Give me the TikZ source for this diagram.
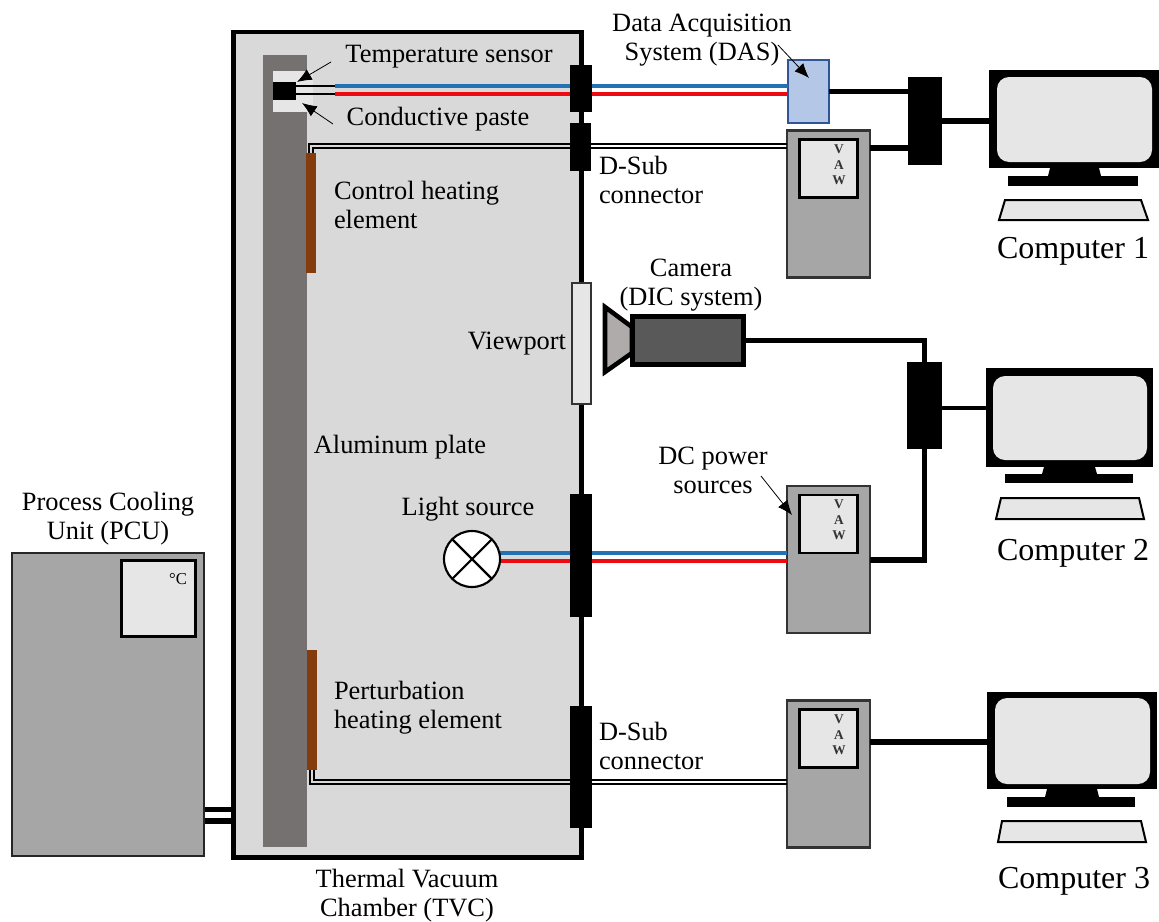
\documentclass[tikz,border=0pt]{standalone}
\usepackage{fontspec}
\setmainfont{Liberation Serif}
\usepackage{tikz}
\usetikzlibrary{arrows.meta}

\definecolor{tvcgray}{HTML}{D9D9D9}
\definecolor{plategray}{HTML}{767171}
\definecolor{pastegray}{HTML}{E7E6E6}
\definecolor{heaterbrown}{HTML}{843C0C}
\definecolor{unitgray}{HTML}{A6A6A6}
\definecolor{dasblue}{HTML}{B4C7E7}
\definecolor{dasline}{HTML}{2F5597}
\definecolor{wireblue}{HTML}{2272B4}
\definecolor{wirered}{HTML}{EE0A12}
\definecolor{camgray}{HTML}{595959}
\definecolor{conegray}{HTML}{AFABAB}

\begin{document}
\begin{tikzpicture}[
        x=0.75pt, y=-0.75pt,
        boxsize/.style 2 args={minimum width=#1*0.75pt, minimum height=#2*0.75pt},
        every node/.style={inner sep=0pt, outer sep=0pt},
        txt/.style={font=\fontsize{19.8pt}{21.75pt}\selectfont, align=center},
        txtleft/.style={font=\fontsize{19.8pt}{21.75pt}\selectfont, align=left, anchor=west},
        pctxt/.style={font=\fontsize{24pt}{28pt}\selectfont},
        vaw/.style={font=\fontsize{10pt}{11.5pt}\selectfont\bfseries, align=center, text=black!80},
        block/.style={fill=black},
        unit/.style={draw=black!80, line width=1.6pt, fill=unitgray},
        display/.style={draw=black, line width=1.6pt, fill=pastegray},
        monitor/.style={fill=black},
        screen/.style={fill=pastegray, rounded corners=9pt},
        keyboard/.style={draw=black, line width=1.5pt, fill=pastegray},
        heater/.style={fill=heaterbrown},
        cable/.style={line width=3.8pt},
        wireb/.style={wireblue, line width=2.6pt},
        wirer/.style={wirered, line width=2.6pt},
        thin wire/.style={line width=1pt},
        pointer/.style={line width=0.6pt, -{Latex[length=11pt, width=9pt]}}
    ]
        \useasboundingbox (0,0) rectangle (1159,921);

        % chamber and plate
        \node[draw=black, line width=3.4pt, fill=tvcgray, boxsize={348}{825.5}] (tvc) at (407.5,444.75) {};
        \node[fill=plategray, boxsize={44}{792}] (plate) at (285,451) {};
        \node[fill=pastegray, boxsize={40}{41}] (paste) at (293,91.5) {};
        \node[block, boxsize={23}{18}] (sensor) at (284.5,91) {};
        \node[heater, boxsize={10}{120}] (ctrl) at (311,213) {};
        \node[heater, boxsize={10}{120}] (pert) at (311.5,710) {};

        % units outside the chamber
        \node[draw=black!80, line width=1pt, fill=pastegray, boxsize={19}{121}] (viewport) at (581.5,343.5) {};
        \node[draw=dasline, line width=1.5pt, fill=dasblue, boxsize={41}{63}] (das) at (808.5,91.5) {};
        \node[unit, boxsize={83}{147}] (psuOne) at (828.5,204) {};
        \node[display, boxsize={58}{58}] (dispOne) at (828.5,168.5) {};
        \node[unit, boxsize={83}{147}] (psuTwo) at (828.5,559.5) {};
        \node[display, boxsize={58}{58}] (dispTwo) at (828.5,524) {};
        \node[unit, boxsize={83}{147}] (psuThree) at (828.5,774) {};
        \node[display, boxsize={58}{58}] (dispThree) at (828.5,738.5) {};
        \node[draw=black!85, line width=1.5pt, fill=unitgray, boxsize={192}{303}] (pcu) at (108,704) {};
        \node[display, boxsize={74}{76}] (dispPcu) at (158.5,598.5) {};
        \node[font=\fontsize{12.5pt}{14pt}\selectfont] (degC) at (178,579) {°C};
        \node[vaw] (vawOne) at (839,165) {V\\A\\W};
        \node[vaw] (vawTwo) at (839,520) {V\\A\\W};
        \node[vaw] (vawThree) at (839,735) {V\\A\\W};

        % sensor and lamp wires
        \coordinate (tsBlue) at (335,86);
        \coordinate (tsRed) at (335,94);
        \draw[thin wire] (sensor.east |- tsBlue) -- (tsBlue);
        \draw[thin wire] (sensor.east |- tsRed) -- (tsRed);
        \draw[wireb] (tsBlue) -- (tsBlue -| das.west);
        \draw[wirer] (tsRed) -- (tsRed -| das.west);
        \coordinate (lampBlue) at (490,553);
        \coordinate (lampRed) at (490,561);
        \draw[wireb] (lampBlue) -- (lampBlue -| psuTwo.west);
        \draw[wirer] (lampRed) -- (lampRed -| psuTwo.west);

        % heater wires
        \coordinate (ctrlOuter) at (309,153);
        \coordinate (ctrlOuterB) at (309,144);
        \coordinate (ctrlInner) at (313,153);
        \coordinate (ctrlInnerB) at (313,148);
        \draw[thin wire] (ctrlOuter) -- (ctrlOuterB) -- (ctrlOuterB -| psuOne.west);
        \draw[thin wire] (ctrlInner) -- (ctrlInnerB) -- (ctrlInnerB -| psuOne.west);
        \coordinate (pertOuter) at (310,770);
        \coordinate (pertOuterB) at (310,784);
        \coordinate (pertInner) at (314,770);
        \coordinate (pertInnerB) at (314,780);
        \draw[thin wire] (pertOuter) -- (pertOuterB) -- (pertOuterB -| psuThree.west);
        \draw[thin wire] (pertInner) -- (pertInnerB) -- (pertInnerB -| psuThree.west);

        % feedthroughs
        \node[block, boxsize={22}{47}] (subTop) at (581,88.5) {};
        \node[block, boxsize={21}{48}] (subCtrl) at (580.5,147) {};
        \node[block, boxsize={22}{123}] (subLamp) at (581,555.5) {};
        \node[block, boxsize={22}{122}] (subPert) at (581,767) {};

        % lamp
        \node[circle, draw=black, line width=1.6pt, fill=white, minimum size=56*0.75pt] (lamp) at (472,559) {};
        \draw[line width=1.6pt] (lamp.45) -- (lamp.225);
        \draw[line width=1.6pt] (lamp.135) -- (lamp.315);

        % camera
        \coordinate (coneA) at (605,307);
        \coordinate (coneB) at (632,327);
        \coordinate (coneC) at (632,353);
        \coordinate (coneD) at (605,372);
        \draw[line width=3.4pt, fill=conegray] (coneA) -- (coneB) -- (coneC) -- (coneD) -- cycle;
        \node[draw=black, line width=3.6pt, fill=camgray, boxsize={111}{48}] (cam) at (688,340.5) {};

        % pcu pipes
        \coordinate (pipeA) at (205,809.5);
        \coordinate (pipeB) at (205,821);
        \draw[cable] (pipeA) -- (pipeA -| tvc.west);
        \draw[cable] (pipeB) -- (pipeB -| tvc.west);

        % computer 1
        \node[monitor, boxsize={170}{98}] (monOne) at (1074,119) {};
        \node[screen, boxsize={155}{85}] (scrOne) at (1074.5,119.5) {};
        \fill (1050,168) -- (1099,168) -- (1101,176) -- (1048,176) -- cycle;
        \node[block, boxsize={130}{10}] (baseOne) at (1073,181) {};
        \draw[keyboard] (1005,200) -- (1141,200) -- (1148,220) -- (999,220) -- cycle;
        \node[pctxt] (pcOne) at (1073,251) {Computer 1};

        % computer 2
        \node[monitor, boxsize={167}{99}] (monTwo) at (1069.5,417.5) {};
        \node[screen, boxsize={154}{84}] (scrTwo) at (1070,418) {};
        \fill (1044,467) -- (1095,467) -- (1097,474) -- (1042,474) -- cycle;
        \node[block, boxsize={128}{9}] (baseTwo) at (1069,478.5) {};
        \draw[keyboard] (1001,498) -- (1139,498) -- (1144,519) -- (996,519) -- cycle;
        \node[pctxt] (pcTwo) at (1073,553) {Computer 2};

        % computer 3
        \node[monitor, boxsize={170}{97}] (monThree) at (1072,740.5) {};
        \node[screen, boxsize={155}{86}] (scrThree) at (1072.5,741) {};
        \fill (1047,789) -- (1097,789) -- (1099,797) -- (1045,797) -- cycle;
        \node[block, boxsize={128}{10}] (baseThree) at (1071,802) {};
        \draw[keyboard] (1002,821) -- (1141,821) -- (1146,842) -- (998,842) -- cycle;
        \node[pctxt] (pcThree) at (1074,881) {Computer 3};

        % hubs and cables
        \node[block, boxsize={34}{88}] (hubOne) at (925,121) {};
        \node[block, boxsize={35}{87}] (hubTwo) at (924.5,405.5) {};
        \coordinate (psuOneOut) at (870,148);
        \coordinate (psuTwoOut) at (870,560);
        \coordinate (psuThreeOut) at (870,742);
        \coordinate (hubTwoOut) at (942,408);
        \draw[cable] (das.east) -- (das.east -| hubOne.west);
        \draw[cable] (psuOneOut) -- (psuOneOut -| hubOne.west);
        \draw[cable] (hubOne.east) -- (hubOne.east -| monOne.west);
        \draw[cable] (cam.east) -| (hubTwo.north);
        \draw[cable] (psuTwoOut) -| (hubTwo.south);
        \draw[line width=3pt] (hubTwoOut) -- (hubTwoOut -| monTwo.west);
        \draw[cable] (psuThreeOut) -- (psuThreeOut -| monThree.west);

        % texts
        \node[txt] (lblTemp) at (449,57) {Temperature sensor};
        \node[txt] (lblPaste) at (438,119) {Conductive paste};
        \node[txt] (lblDas) at (702,40) {Data Acquisition\\System (DAS)};
        \node[txtleft] (lblSubA) at (599,179.5) {D-Sub\\connector};
        \node[txtleft] (lblSubB) at (599,745.5) {D-Sub\\connector};
        \node[txtleft] (lblCtrl) at (334,204.5) {Control heating\\element};
        \node[txt] (lblCam) at (691,285) {Camera\\(DIC system)};
        \node[txt] (lblView) at (517,344) {Viewport};
        \node[txt] (lblPlate) at (400,447) {Aluminum plate};
        \node[txt] (lblLight) at (468,509) {Light source};
        \node[txt] (lblDc) at (713,470.5) {DC power\\sources};
        \node[txt] (lblPcu) at (108,518.5) {Process Cooling\\Unit (PCU)};
        \node[txtleft] (lblPert) at (334,707.5) {Perturbation\\heating element};
        \node[txt] (lblTvc) at (407,895.5) {Thermal Vacuum\\Chamber (TVC)};

        % pointers
        \coordinate (ptTemp) at (331,62);
        \coordinate (tipTemp) at (297,82);
        \coordinate (ptPaste) at (333,124);
        \coordinate (tipPaste) at (302,103);
        \coordinate (ptDas) at (778,45);
        \coordinate (tipDas) at (809,78);
        \coordinate (ptDc) at (761,476);
        \coordinate (tipDc) at (792,515);
        \draw[pointer] (ptTemp) -- (tipTemp);
        \draw[pointer] (ptPaste) -- (tipPaste);
        \draw[pointer] (ptDas) -- (tipDas);
        \draw[pointer] (ptDc) -- (tipDc);
    \end{tikzpicture}
\end{document}
